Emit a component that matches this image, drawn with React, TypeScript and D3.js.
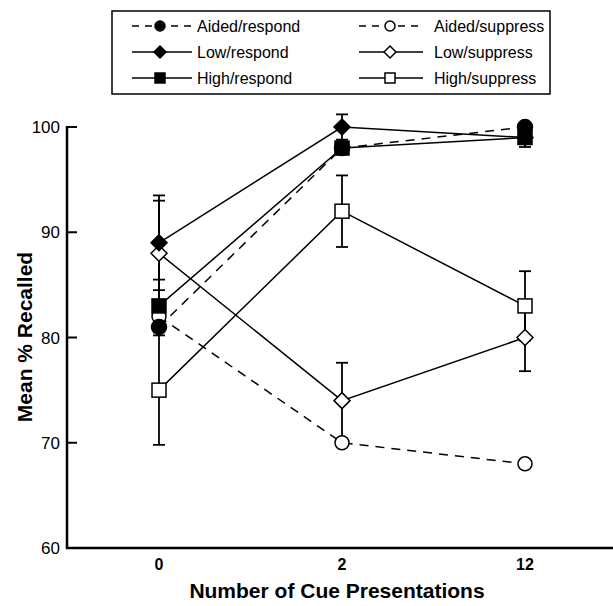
import React, { useEffect, useRef } from "react";
import * as d3 from "d3";

const cues = ["0", "2", "12"];
const seriesNames = ["Aided/respond", "Aided/suppress", "Low/respond", "Low/suppress", "High/respond", "High/suppress"];
const aidedRespond = [81, 98, 100];
const aidedSuppress = [82, 70, 68];
const lowRespond = [89, 100, 99];
const lowSuppress = [88, 74, 80];
const highRespond = [83, 98, 99];
const highSuppress = [75, 92, 83];
// half-width of the error bars (0 = none shown)
const lowRespondErr = [4.5, 1.2, 0];
const lowSuppressErr = [5, 3.6, 3.2];
const highRespondErr = [2.5, 0, 0.9];
const highSuppressErr = [5.2, 3.4, 3.3];
const yTicks = [60, 70, 80, 90, 100];

const W = 613;
const H = 606;
const FONT = "Arial, 'Liberation Sans', Helvetica, sans-serif";

type Series = { name: string; values: number[]; err: number[]; marker: string; filled: boolean; dashed: boolean };

const series: Series[] = [
  { name: seriesNames[1], values: aidedSuppress, err: [0, 0, 0], marker: "circle", filled: false, dashed: true },
  { name: seriesNames[3], values: lowSuppress, err: lowSuppressErr, marker: "diamond", filled: false, dashed: false },
  { name: seriesNames[5], values: highSuppress, err: highSuppressErr, marker: "square", filled: false, dashed: false },
  { name: seriesNames[4], values: highRespond, err: highRespondErr, marker: "square", filled: true, dashed: false },
  { name: seriesNames[2], values: lowRespond, err: lowRespondErr, marker: "diamond", filled: true, dashed: false },
  { name: seriesNames[0], values: aidedRespond, err: [0, 0, 0], marker: "circle", filled: true, dashed: true },
];

const drawMarker = (g: any, kind: string, filled: boolean, x: number, y: number, big = true) => {
  const fill = filled ? "#000" : "#fff";
  if (kind === "circle") {
    g.append("circle").attr("cx", x).attr("cy", y).attr("r", big ? (filled ? 7.5 : 7) : 5)
      .attr("fill", fill).attr("stroke", "#000").attr("stroke-width", 1.5);
  } else if (kind === "square") {
    const s = big ? 7 : 5;
    g.append("rect").attr("x", x - s).attr("y", y - s).attr("width", 2 * s).attr("height", 2 * s)
      .attr("fill", fill).attr("stroke", "#000").attr("stroke-width", 1.5);
  } else {
    const s = big ? 8 : 6;
    g.append("path").attr("d", `M${x},${y - s}L${x + s},${y}L${x},${y + s}L${x - s},${y}Z`)
      .attr("fill", fill).attr("stroke", "#000").attr("stroke-width", 1.5);
  }
};

const App = () => {
  const ref = useRef<SVGSVGElement>(null);

  useEffect(() => {
    const svg = d3.select(ref.current);
    svg.selectAll("*").remove();

    const x = d3.scalePoint().domain(cues).range([159, 525]);
    const y = d3.scaleLinear().domain([60, 100]).range([548, 127]);

    // axes
    svg.append("line").attr("x1", 67).attr("x2", 67).attr("y1", 126).attr("y2", 549)
      .attr("stroke", "#000").attr("stroke-width", 2.5);
    svg.append("line").attr("x1", 66).attr("x2", 613).attr("y1", 548).attr("y2", 548)
      .attr("stroke", "#000").attr("stroke-width", 2.5);

    yTicks.forEach((t) => {
      if (t !== 60) {
        svg.append("line").attr("x1", 67).attr("x2", 77).attr("y1", y(t)).attr("y2", y(t))
          .attr("stroke", "#000").attr("stroke-width", 2);
      }
      svg.append("text").attr("x", 60).attr("y", y(t) + 6).attr("text-anchor", "end")
        .attr("font-family", FONT).attr("font-size", 17).text(t);
    });

    cues.forEach((c) => {
      svg.append("text").attr("x", x(c)!).attr("y", 570).attr("text-anchor", "middle")
        .attr("font-family", FONT).attr("font-size", 16).attr("font-weight", "bold").text(c);
    });

    svg.append("text").attr("x", 337).attr("y", 598).attr("text-anchor", "middle")
      .attr("font-family", FONT).attr("font-size", 21).attr("font-weight", "bold")
      .text("Number of Cue Presentations");
    svg.append("text").attr("transform", "translate(32,337) rotate(-90)").attr("text-anchor", "middle")
      .attr("font-family", FONT).attr("font-size", 21).attr("font-weight", "bold")
      .text("Mean % Recalled");

    const line = d3.line<number>().x((_, i) => x(cues[i])!).y((d) => y(d));

    const gLines = svg.append("g");
    series.forEach((s) => {
      gLines.append("path").attr("d", line(s.values)).attr("fill", "none").attr("stroke", "#000")
        .attr("stroke-width", 1.5).attr("stroke-dasharray", s.dashed ? "9,7" : null);
    });

    const gErr = svg.append("g");
    series.forEach((s) => {
      s.values.forEach((v, i) => {
        const e = s.err[i];
        if (!e) return;
        const cx = x(cues[i])!;
        gErr.append("line").attr("x1", cx).attr("x2", cx).attr("y1", y(v - e)).attr("y2", y(v + e))
          .attr("stroke", "#000").attr("stroke-width", 1.8);
        [v - e, v + e].forEach((b) => {
          gErr.append("line").attr("x1", cx - 6).attr("x2", cx + 6).attr("y1", y(b)).attr("y2", y(b))
            .attr("stroke", "#000").attr("stroke-width", 1.8);
        });
      });
    });

    const gMarks = svg.append("g");
    series.forEach((s) => {
      s.values.forEach((v, i) => drawMarker(gMarks, s.marker, s.filled, x(cues[i])!, y(v)));
    });

    // legend
    const lg = svg.append("g");
    lg.append("rect").attr("x", 112).attr("y", 11).attr("width", 438).attr("height", 83)
      .attr("fill", "#fff").attr("stroke", "#000").attr("stroke-width", 1.5);
    const legendOrder = [
      [series[5], series[0]],
      [series[4], series[1]],
      [series[3], series[2]],
    ];
    const colX = [[132, 192, 160, 197], [359, 423, 390, 434]];
    legendOrder.forEach((row, r) => {
      const ly = 26 + r * 26;
      row.forEach((s, c) => {
        const [x1, x2, mx, tx] = colX[c];
        lg.append("line").attr("x1", x1).attr("x2", x2).attr("y1", ly).attr("y2", ly)
          .attr("stroke", "#000").attr("stroke-width", 1.5)
          .attr("stroke-dasharray", s.dashed ? "7,6" : null);
        drawMarker(lg, s.marker, s.filled, mx, ly, false);
        lg.append("text").attr("x", tx).attr("y", ly + 5.5).attr("font-family", FONT)
          .attr("font-size", 16).text(s.name);
      });
    });
  }, []);

  return (
    <svg ref={ref} width={W} height={H} style={{ position: "absolute", left: 0, top: 0, background: "#fff" }} />
  );
};

export default App;
